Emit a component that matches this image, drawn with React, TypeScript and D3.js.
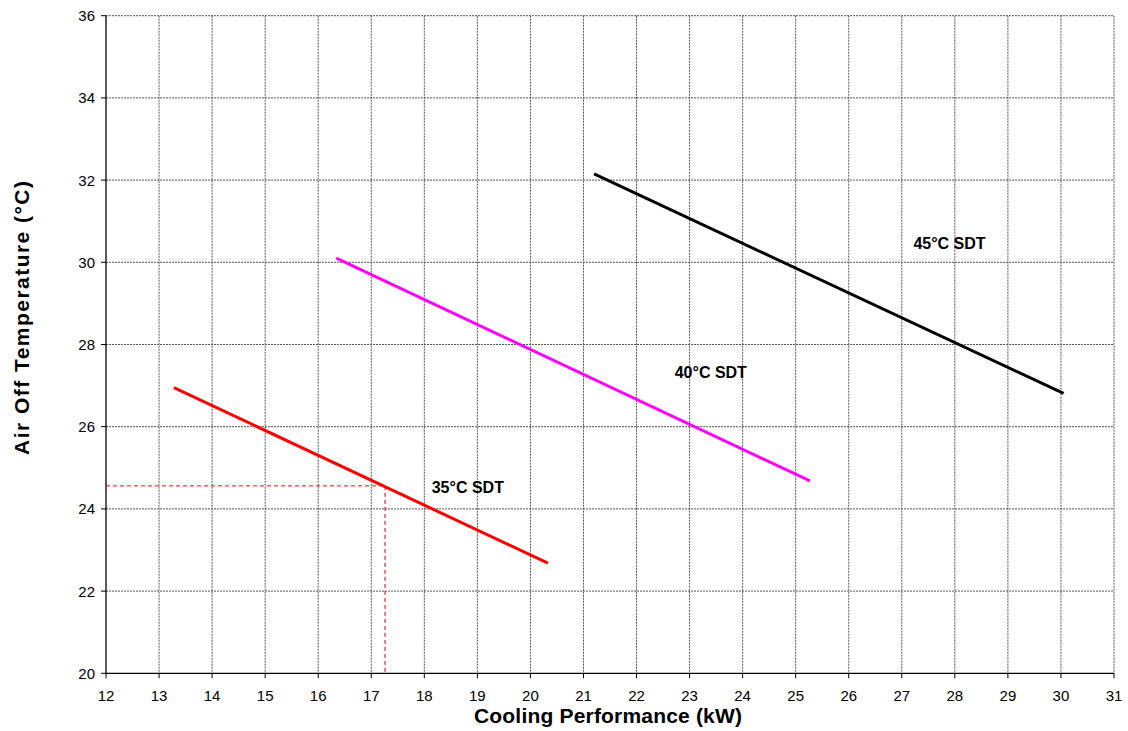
import React from "react";
import * as d3 from "d3";

const xTicks = [12, 13, 14, 15, 16, 17, 18, 19, 20, 21, 22, 23, 24, 25, 26, 27, 28, 29, 30, 31];
const yTicks = [20, 22, 24, 26, 28, 30, 32, 34, 36];

const series35 = [
  { x: 13.28, y: 26.95 },
  { x: 20.33, y: 22.68 },
];
const series40 = [
  { x: 16.34, y: 30.1 },
  { x: 25.27, y: 24.68 },
];
const series45 = [
  { x: 21.2, y: 32.15 },
  { x: 30.05, y: 26.81 },
];
const seriesNames = ["35°C SDT", "40°C SDT", "45°C SDT"];
const seriesColors = ["#ff0000", "#ff00ff", "#000000"];
const labelPos = [
  { x: 18.82, y: 24.39 },
  { x: 23.4, y: 27.18 },
  { x: 27.9, y: 30.33 },
];
const refPoint = { x: 17.26, y: 24.56 };

export default function App() {
  const W = 1128, H = 731;
  const left = 106, right = 1114, top = 15.7, bottom = 673.3;
  const x = d3.scaleLinear().domain([12, 31]).range([left, right]);
  const y = d3.scaleLinear().domain([20, 36]).range([bottom, top]);
  const line = d3.line<{ x: number; y: number }>().x(d => x(d.x)).y(d => y(d.y));
  const allSeries = [series35, series40, series45];
  const font = "'Liberation Sans', Arial, sans-serif";

  return (
    <svg width={W} height={H} style={{ position: "absolute", left: 0, top: 0, background: "#fff" }} fontFamily={font}>
      {/* grid */}
      {xTicks.slice(1).map(t => (
        <line key={"gx" + t} x1={x(t)} x2={x(t)} y1={top} y2={bottom} stroke="#555" strokeWidth={1} strokeDasharray="2,1" />
      ))}
      {yTicks.slice(1).map(t => (
        <line key={"gy" + t} x1={left} x2={right} y1={y(t)} y2={y(t)} stroke="#555" strokeWidth={1} strokeDasharray="2,1" />
      ))}
      {/* axes */}
      <line x1={left} x2={left} y1={top} y2={bottom} stroke="#000" strokeWidth={1.3} />
      <line x1={left} x2={right} y1={bottom} y2={bottom} stroke="#000" strokeWidth={1.3} />
      {yTicks.map(t => (
        <g key={"yt" + t}>
          <line x1={left - 5} x2={left} y1={y(t)} y2={y(t)} stroke="#000" strokeWidth={1} />
          <text x={left - 11} y={y(t)} dy="0.36em" textAnchor="end" fontSize={15} fill="#000">{t}</text>
        </g>
      ))}
      {xTicks.map(t => (
        <g key={"xt" + t}>
          <line x1={x(t)} x2={x(t)} y1={bottom} y2={bottom + 5} stroke="#000" strokeWidth={1} />
          <text x={x(t)} y={bottom + 27.5} textAnchor="middle" fontSize={15} fill="#000">{t}</text>
        </g>
      ))}
      {/* reference dashed lines */}
      <line x1={left} x2={x(refPoint.x)} y1={y(refPoint.y)} y2={y(refPoint.y)} stroke="#ff0000" strokeWidth={1} strokeDasharray="4,3" />
      <line x1={x(refPoint.x)} x2={x(refPoint.x)} y1={y(refPoint.y)} y2={bottom} stroke="#c00000" strokeWidth={1} strokeDasharray="4,3" />
      {/* series */}
      {allSeries.map((s, i) => (
        <path key={"s" + i} d={line(s) || ""} fill="none" stroke={seriesColors[i]} strokeWidth={3} />
      ))}
      {labelPos.map((p, i) => (
        <text key={"l" + i} x={x(p.x)} y={y(p.y)} textAnchor="middle" fontSize={16} fontWeight="bold" fill="#000">{seriesNames[i]}</text>
      ))}
      {/* axis titles */}
      <text x={608} y={723} textAnchor="middle" fontSize={21} fontWeight="bold" fill="#000" textLength={268}>Cooling Performance (kW)</text>
      <text transform={`translate(29, 318) rotate(-90)`} textAnchor="middle" fontSize={21} fontWeight="bold" fill="#000" textLength={274}>Air Off Temperature (°C)</text>
    </svg>
  );
}
